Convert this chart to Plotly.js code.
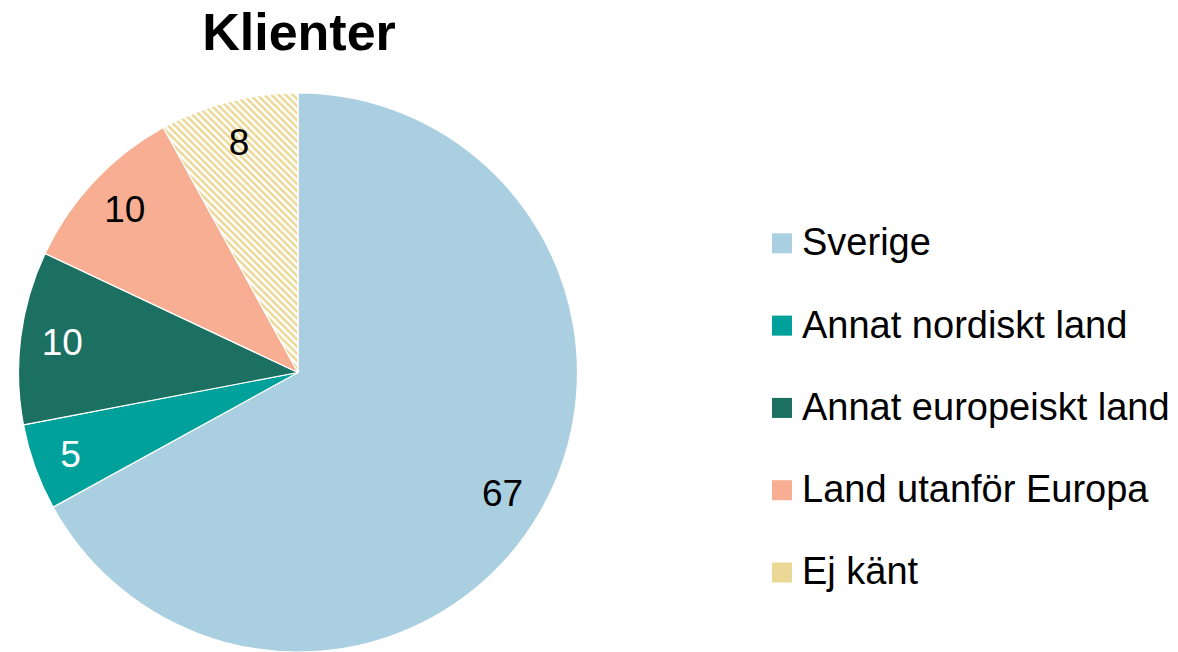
<!DOCTYPE html>
<html>
<head>
<meta charset="utf-8">
<script src="https://cdn.plot.ly/plotly-3.0.1.min.js"></script>
<style>html,body{margin:0;padding:0;background:#fff;}#chart{width:1178px;height:652px;}</style>
</head>
<body>
<div id="chart"></div>
<script>
const categories = ["Sverige", "Annat nordiskt land", "Annat europeiskt land", "Land utanför Europa", "Ej känt"];
const values = [67, 5, 10, 10, 8];
const colors = ["#aacfe0", "#00a19a", "#1b7062", "#f7ae93", "#ecd896"];
const textColors = ["#000000", "#ffffff", "#ffffff", "#000000", "#000000"];
const patterns = ["", "", "", "", "\\"];
const chartTitle = "Klienter";

const W = 1178, H = 652;
const FONT = "Liberation Sans, Arial, sans-serif";
const pieDomain = {x: [18 / W, 578 / W], y: [0, 1 - 93 / H]};

// Slices
const slices = {
  type: "pie",
  labels: categories.map(c => "<span style='font-size:38px'>" + c + "</span><br> "),
  values: values,
  sort: false,
  direction: "clockwise",
  rotation: 0,
  textinfo: "none",
  hoverinfo: "skip",
  marker: {
    colors: colors,
    line: {color: "#ffffff", width: 1.2},
    pattern: {shape: patterns, fgcolor: "#ecd896", bgcolor: "#ffffff", size: 5, solidity: 0.5}
  },
  domain: pieDomain
};

// Same data as a transparent ring, only to place the value labels near the outer edge
const labelRing = {
  type: "pie",
  labels: categories,
  values: values,
  sort: false,
  direction: "clockwise",
  rotation: 0,
  hole: 0.7,
  showlegend: false,
  textinfo: "value",
  textposition: "inside",
  insidetextorientation: "horizontal",
  insidetextfont: {family: FONT, size: 37, color: textColors},
  hoverinfo: "skip",
  marker: {colors: categories.map(() => "rgba(0,0,0,0)"), line: {width: 0}},
  domain: pieDomain
};

const layout = {
  width: W, height: H,
  margin: {l: 0, r: 0, t: 0, b: 0},
  paper_bgcolor: "#ffffff",
  title: {
    text: "<b>" + chartTitle + "</b>",
    font: {family: FONT, size: 52, color: "#000000"},
    x: 299 / W, xanchor: "center", xref: "paper",
    y: 1 - 32 / H, yanchor: "middle", yref: "container"
  },
  showlegend: true,
  legend: {
    x: 762 / W, xanchor: "left",
    y: 1 - 217 / H, yanchor: "top",
    valign: "top",
    font: {family: FONT, size: 30.5, color: "#000000"},
    bgcolor: "rgba(0,0,0,0)",
    traceorder: "normal"
  }
};

Plotly.newPlot("chart", [slices, labelRing], layout, {displayModeBar: false, staticPlot: true}).then(gd => {
  // Larger, solid legend swatches as in the reference
  gd.querySelectorAll(".legend .traces").forEach((tr, i) => {
    const p = tr.querySelector("path.legendpie");
    if (p) {
      p.setAttribute("transform", "translate(20,0) scale(1.67)");
      p.style.fill = colors[i % colors.length];
      p.style.strokeWidth = "0";
    }
  });
});
</script>
</body>
</html>
